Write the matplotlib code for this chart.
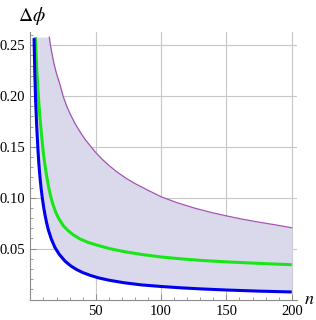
import matplotlib
matplotlib.use("Agg")
import matplotlib.pyplot as plt
import numpy as np
from matplotlib.ticker import MultipleLocator

plt.rcParams["mathtext.fontset"] = "stix"

# Data
n_blue = [2.8, 3.4, 4.0, 4.8, 5.8, 6.5, 7.3, 8.2, 9.2, 10.2, 11.2, 12.4, 13.7, 16, 18.8, 22, 26.5, 31,
          35.4, 40, 45.6, 52, 60, 72, 85, 100, 115, 130, 150, 175, 200]
v_blue = [0.257, 0.2206, 0.195, 0.1708, 0.1466, 0.1331, 0.1205, 0.1091, 0.0989, 0.0902, 0.0830,
          0.0754, 0.0686, 0.0594, 0.0511, 0.0445, 0.0377, 0.0329, 0.0294, 0.0265, 0.0238, 0.0213,
          0.0190, 0.0164, 0.01435, 0.0128, 0.01148, 0.01046, 0.00933, 0.00823, 0.0074]

n_green = [3.8, 4.4, 5.0, 5.6, 6.3, 7.0, 7.8, 8.5, 9.3, 10.1, 11, 12, 12.9, 14.2, 15.5, 17, 19, 21.5,
           25.2, 29, 32.9, 38, 44, 50, 60, 72, 85, 100, 115, 130, 150, 175, 200]
v_green = [0.258, 0.239, 0.223, 0.210, 0.196, 0.184, 0.172, 0.162, 0.1515, 0.142, 0.1335, 0.125,
           0.118, 0.109, 0.1015, 0.0945, 0.087, 0.080, 0.0725, 0.0675, 0.0635, 0.0595, 0.0562,
           0.0538, 0.0502, 0.0470, 0.0443, 0.0418, 0.0400, 0.0385, 0.0370, 0.0355, 0.0342]

n_purple = [14.5, 15.3, 16.5, 18, 20, 22.7, 25, 27.5, 30, 34, 38, 42, 46.5, 50, 55, 60, 66, 73.7, 80,
            90, 100, 112, 126, 138, 150, 162, 175, 187, 200]
v_purple = [0.258, 0.250, 0.242, 0.232, 0.222, 0.211, 0.200, 0.191, 0.1836, 0.1733, 0.1648, 0.1572,
            0.150, 0.1445, 0.1378, 0.1319, 0.1256, 0.1188, 0.1140, 0.1074, 0.101, 0.0953, 0.0897,
            0.0857, 0.0822, 0.079, 0.076, 0.0735, 0.0705]

x_ticks = [50, 100, 150, 200]
y_ticks = [0.05, 0.10, 0.15, 0.20, 0.25]
y_tick_labels = ["0.05", "0.10", "0.15", "0.20", "0.25"]

fig = plt.figure(figsize=(3.16, 3.20), dpi=100)
ax = fig.add_axes([30.4/316, 20.5/320, (297-30.4)/316, (299.5-32)/320])
ax.set_xlim(0, 204)
ax.set_ylim(0, 0.263)

# fill between bottom (blue) and top (purple)
grid_n = np.union1d(np.union1d(n_blue, n_purple), n_green)
top = np.interp(grid_n, n_purple, v_purple, left=0.258)
bot = np.interp(grid_n, n_blue, v_blue)
ax.fill_between(grid_n, bot, top, color="#d9d9eb", lw=0, zorder=1)

ax.plot(n_purple, v_purple, color="#a653b3", lw=0.9, zorder=3)
ax.plot(n_green, v_green, color="#19e619", lw=2.2, zorder=4, solid_capstyle="butt")
ax.plot(n_blue, v_blue, color="#0000ee", lw=2.2, zorder=5, solid_capstyle="butt")

ax.set_xticks(x_ticks)
ax.set_yticks(y_ticks)
ax.set_yticklabels(y_tick_labels)
ax.xaxis.set_minor_locator(MultipleLocator(10))
ax.yaxis.set_minor_locator(MultipleLocator(0.01))
ax.grid(True, which="major", color="#c8c8c8", lw=0.8, zorder=0)
ax.set_axisbelow(True)

for s in ["top", "right"]:
    ax.spines[s].set_visible(False)
for s in ["left", "bottom"]:
    ax.spines[s].set_color("#8c8c8c")
    ax.spines[s].set_linewidth(0.8)

ax.tick_params(axis="both", which="major", direction="in", length=4, width=0.7,
               color="#8c8c8c", labelsize=10.5, pad=4)
ax.tick_params(axis="both", which="minor", direction="in", length=2.2, width=0.6, color="#8c8c8c")
for lab in ax.get_xticklabels() + ax.get_yticklabels():
    lab.set_fontfamily("Liberation Serif")

ax.text(-0.045, 1.06, r"$\Delta\phi$", transform=ax.transAxes, fontsize=14,
        ha="left", va="center")
ax.text(1.025, -0.0, r"$n$", transform=ax.transAxes, fontsize=13,
        ha="left", va="center")

fig.savefig("out.png", dpi=100)
